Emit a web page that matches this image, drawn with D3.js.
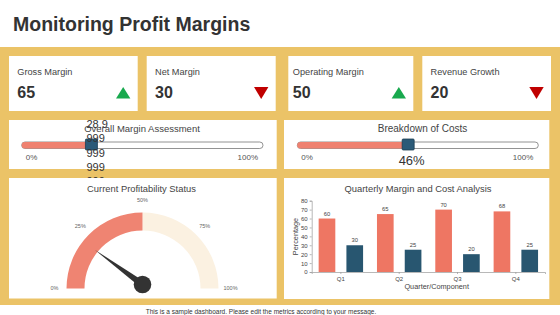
<!DOCTYPE html>
<html><head><meta charset="utf-8">
<script src="https://cdn.jsdelivr.net/npm/d3@7"></script>
<style>body{margin:0;background:#fff;}svg{display:block;font-family:"Liberation Sans",Arial,sans-serif;}</style>
</head><body>
<svg id="c" width="560" height="315"></svg>
<script>
// ---- data ----
const kpiLabels = ["Gross Margin", "Net Margin", "Operating Margin", "Revenue Growth"];
const kpiValues = [65, 30, 50, 20];
const kpiTrend = ["up", "down", "up", "down"];
const sliderTitles = ["Overall Margin Assessment", "Breakdown of Costs"];
const sliderValues = [28.9, 46];
const sliderOverflowText = ["28.9", "999", "999", "999", "999"];
const sliderEndLabels = ["0%", "100%"];
const gaugeTitle = "Current Profitability Status";
const gaugeTickLabels = ["0%", "25%", "50%", "75%", "100%"];
const gaugeTickValues = [0, 25, 50, 75, 100];
const gaugeFillValue = 50;
const gaugeNeedleValue = 20;
const barTitle = "Quarterly Margin and Cost Analysis";
const quarters = ["Q1", "Q2", "Q3", "Q4"];
const seriesNames = ["Margin", "Cost"];
const marginValues = [60, 65, 70, 68];
const costValues = [30, 25, 20, 25];
const yTicks = [0, 10, 20, 30, 40, 50, 60, 70, 80];

const GOLD = "#ebc367", SALMON = "#ee7663", GAUGE_SALMON = "#ef8472", DARK = "#285670", CREAM = "#fbf1e1";
const svg = d3.select("#c");

// title
svg.append("text").attr("x", 13).attr("y", 31).attr("font-size", 19.5).attr("font-weight", "bold")
  .attr("fill", "#333").text("Monitoring Profit Margins");

// gold band
svg.append("rect").attr("x", 0).attr("y", 47).attr("width", 560).attr("height", 258).attr("fill", GOLD);

// footer
svg.append("text").attr("x", 261).attr("y", 313.5).attr("text-anchor", "middle").attr("font-size", 6.5)
  .attr("fill", "#333").text("This is a sample dashboard. Please edit the metrics according to your message.");

// ---- KPI cards ----
const cardX = [[9, 137.7], [146.7, 275.7], [288.3, 413.3], [422.3, 551]];
kpiLabels.forEach((lab, i) => {
  const [x0, x1] = cardX[i];
  const g = svg.append("g");
  g.append("rect").attr("x", x0).attr("y", 56).attr("width", x1 - x0).attr("height", 55).attr("fill", "#fff");
  const pad = i === 2 ? 4.5 : 8.3;
  g.append("text").attr("x", x0 + pad).attr("y", 75).attr("font-size", 9.2).attr("fill", "#444").text(lab);
  g.append("text").attr("x", x0 + pad).attr("y", 98).attr("font-size", 16).attr("font-weight", "bold")
    .attr("fill", "#333").text(kpiValues[i]);
  const cx = x1 - 14.5;
  const up = kpiTrend[i] === "up";
  const pts = up ? [[cx, 87], [cx + 7.2, 98.5], [cx - 7.2, 98.5]] : [[cx - 7.2, 87], [cx + 7.2, 87], [cx, 99]];
  g.append("path").attr("d", d3.line()(pts) + "Z").attr("fill", up ? "#18a94e" : "#c00000");
});

// ---- slider cards ----
const sliderCards = [[9, 276.7], [284, 549.3]];
const trackX = [[21.7, 263], [297.3, 538.3]];
sliderCards.forEach(([x0, x1], i) => {
  svg.append("rect").attr("x", x0).attr("y", 120).attr("width", x1 - x0).attr("height", 49).attr("fill", "#fff");
});
sliderCards.forEach(([x0, x1], i) => {
  const g = svg.append("g");
  const sx = d3.scaleLinear().domain([0, 100]).range(trackX[i]);
  g.append("text").attr("x", i === 0 ? 142 : 422.5).attr("y", 131.5).attr("text-anchor", "middle")
    .attr("font-size", i === 0 ? 9.5 : 10).attr("fill", "#444").text(sliderTitles[i]);
  // track
  g.append("rect").attr("x", sx(0)).attr("y", 142).attr("width", sx(100) - sx(0)).attr("height", 6.5)
    .attr("rx", 3.25).attr("fill", "#fff").attr("stroke", "#777").attr("stroke-width", 0.8);
  g.append("rect").attr("x", sx(0)).attr("y", 142).attr("width", sx(sliderValues[i]) - sx(0)).attr("height", 6.5)
    .attr("rx", 3.25).attr("fill", "#ef8170");
  // handle
  const hx = sx(sliderValues[i]);
  g.append("rect").attr("x", hx - 6).attr("y", 139).attr("width", 12).attr("height", 11).attr("rx", 1)
    .attr("fill", "#2b5a78").attr("stroke", "#1c3c52").attr("stroke-width", 0.8);
  g.append("text").attr("x", sx(0) + 4).attr("y", 160).attr("font-size", 8).attr("fill", "#555").text(sliderEndLabels[0]);
  g.append("text").attr("x", sx(100) - 5).attr("y", 160).attr("text-anchor", "end").attr("font-size", 8)
    .attr("fill", "#555").text(sliderEndLabels[1]);
  if (i === 1) {
    g.append("text").attr("x", hx + 3.5).attr("y", 165).attr("text-anchor", "middle").attr("font-size", 13)
      .attr("fill", "#333").text(sliderValues[i] + "%");
  } else {
    sliderOverflowText.forEach((t, k) => {
      g.append("text").attr("x", 86.5).attr("y", 128 + k * 14.3).attr("font-size", 11)
        .attr("fill", "#333").text(t);
    });
  }
});

// ---- gauge card ----
svg.append("rect").attr("x", 9).attr("y", 178).attr("width", 267.7).attr("height", 120.5).attr("fill", "#fff");
svg.append("text").attr("x", 141.5).attr("y", 191.5).attr("text-anchor", "middle").attr("font-size", 9.4)
  .attr("fill", "#444").text(gaugeTitle);
const gcx = 142.5, gcy = 288.5, gR = 76, gr = 58;
const ang = d3.scaleLinear().domain([0, 100]).range([-Math.PI / 2, Math.PI / 2]);
const arc = d3.arc().innerRadius(gr).outerRadius(gR);
const gg = svg.append("g").attr("transform", `translate(${gcx},${gcy})`);
gg.append("path").attr("d", arc({startAngle: ang(gaugeFillValue), endAngle: ang(100)})).attr("fill", CREAM);
gg.append("path").attr("d", arc({startAngle: ang(0), endAngle: ang(gaugeFillValue)})).attr("fill", GAUGE_SALMON);
gaugeTickValues.forEach((v, k) => {
  const a = ang(v), r = 88;
  gg.append("text").attr("x", r * Math.sin(a)).attr("y", -r * Math.cos(a)).attr("text-anchor", "middle")
    .attr("dominant-baseline", "middle").attr("font-size", 5.5).attr("fill", "#666").text(gaugeTickLabels[k]);
});
// needle
const hubY = -4, nLen = 59, a = ang(gaugeNeedleValue);
const tip = [nLen * Math.sin(a), hubY - nLen * Math.cos(a)];
const px = Math.cos(a) * 3.5, py = Math.sin(a) * 3.5;
gg.append("path").attr("d", d3.line()([[px, hubY + py], tip, [-px, hubY - py]]) + "Z").attr("fill", "#333");
gg.append("circle").attr("cx", 0).attr("cy", hubY).attr("r", 8.8).attr("fill", "#333");

// ---- bar chart card ----
svg.append("rect").attr("x", 284).attr("y", 178).attr("width", 265.3).attr("height", 121).attr("fill", "#fff");
svg.append("text").attr("x", 418).attr("y", 192.3).attr("text-anchor", "middle").attr("font-size", 9.4)
  .attr("fill", "#444").text(barTitle);
const x0s = d3.scaleBand().domain(quarters).range([311.7, 545]).padding(0);
const x1s = d3.scaleBand().domain(seriesNames).range([0, x0s.bandwidth()]).paddingInner(0.4).paddingOuter(0.25);
const ys = d3.scaleLinear().domain([0, 80]).range([272, 200.7]);
const bc = svg.append("g");
const yAx = bc.append("g").attr("transform", "translate(311.7,0)")
  .call(d3.axisLeft(ys).tickValues(yTicks).tickSize(2).tickPadding(2));
const xAx = bc.append("g").attr("transform", "translate(0,272)")
  .call(d3.axisBottom(x0s).tickSize(2).tickPadding(3));
[yAx, xAx].forEach(ax => {
  ax.selectAll("path,line").attr("stroke", "#999").attr("stroke-width", 0.7);
  ax.selectAll("text").attr("font-size", 6).attr("fill", "#444").attr("font-family", "Liberation Sans, Arial, sans-serif");
});
const rows = quarters.map((q, i) => ({q, vals: [marginValues[i], costValues[i]]}));
rows.forEach(r => {
  r.vals.forEach((v, k) => {
    const bx = x0s(r.q) + x1s(seriesNames[k]);
    bc.append("rect").attr("x", bx).attr("y", ys(v)).attr("width", x1s.bandwidth()).attr("height", ys(0) - ys(v))
      .attr("fill", k === 0 ? SALMON : DARK);
    bc.append("text").attr("x", bx + x1s.bandwidth() / 2).attr("y", ys(v) - 3).attr("text-anchor", "middle")
      .attr("font-size", 5.8).attr("fill", "#444").text(v);
  });
});
bc.append("text").attr("transform", "translate(297.5,236.5) rotate(-90)").attr("text-anchor", "middle")
  .attr("font-size", 7.3).attr("fill", "#444").text("Percentage");
bc.append("text").attr("x", 436.7).attr("y", 288.5).attr("text-anchor", "middle").attr("font-size", 7.3)
  .attr("fill", "#444").text("Quarter/Component");
</script>
</body></html>
